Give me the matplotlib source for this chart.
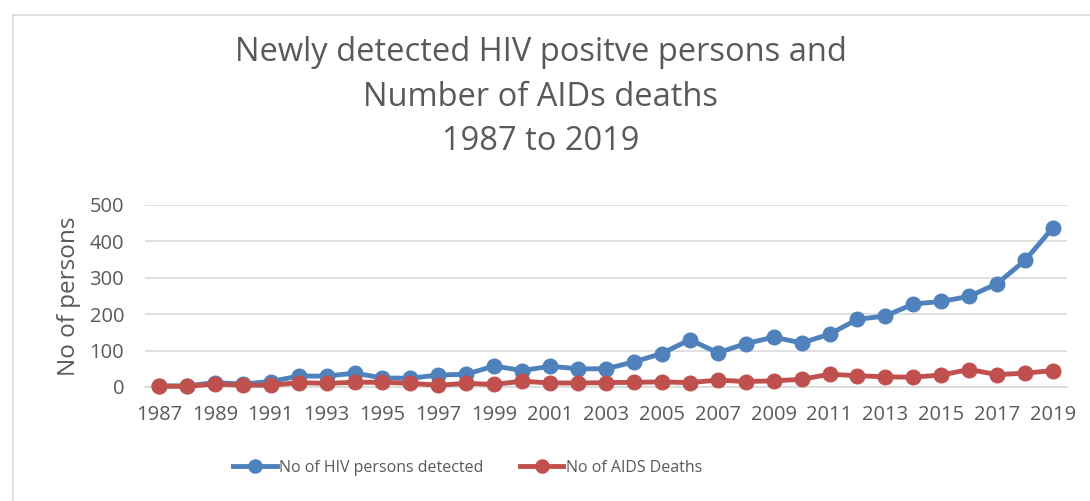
import numpy as np
import matplotlib
matplotlib.use("Agg")
import matplotlib.pyplot as plt
from matplotlib.patches import Rectangle

years = list(range(1987, 2020))
hiv_detected = [3, 3, 12, 8, 15, 30, 30, 38, 25, 24, 33, 35, 58, 45, 57, 50, 50,
                69, 92, 130, 94, 119, 137, 121, 145, 186, 195, 228, 235, 249, 284, 348, 438]
aids_deaths = [2, 2, 8, 5, 5, 12, 10, 13, 13, 10, 5, 10, 7, 16, 11, 11, 12,
               13, 14, 12, 19, 15, 17, 21, 35, 31, 28, 27, 33, 48, 34, 38, 45]

title = "Newly detected HIV positve persons and\nNumber of AIDs deaths\n1987 to 2019"
TXT = "#595959"
BLUE = "#4F81BD"
RED = "#C0504D"

plt.rcParams["font.family"] = ["Open Sans", "DejaVu Sans"]

fig = plt.figure(figsize=(10.9, 5.01), dpi=100)
# chart-area border (only top/left edges fall inside the image)
fig.patches.append(Rectangle((13 / 1090, -0.1), 2, 1.1 - 15 / 501, transform=fig.transFigure,
                             fill=False, edgecolor="#d9d9d9", lw=1.2))

ax = fig.add_axes([145 / 1090, 1 - 387 / 501, (1067 - 145) / 1090, (387 - 205) / 501])

ax.plot(years, hiv_detected, color=BLUE, lw=3.5, marker="o", ms=10.5, label="No of HIV persons detected",
        clip_on=False, zorder=3)
ax.plot(years, aids_deaths, color=RED, lw=3.5, marker="o", ms=10.5, label="No of AIDS Deaths",
        clip_on=False, zorder=4)

ax.set_xlim(1986.5, 2019.5)
ax.set_ylim(0, 500)
ax.set_yticks(range(0, 501, 100))
ax.set_xticks(years[::2])
ax.grid(axis="y", color="#d9d9d9", lw=1.2)
ax.set_axisbelow(True)
for s in ["top", "right", "left"]:
    ax.spines[s].set_visible(False)
ax.spines["bottom"].set_color("#d9d9d9")
ax.spines["bottom"].set_linewidth(1.2)
ax.tick_params(length=0, labelsize=14.5, colors=TXT)
ax.tick_params(axis="y", pad=15)
ax.tick_params(axis="x", pad=13)
ax.set_ylabel("No of persons", fontsize=17.5, color=TXT, labelpad=6)

fig.text(0.496, 1 - 36 / 501, title, ha="center", va="top", fontsize=23.5, color=TXT,
         linespacing=1.46)

leg = fig.legend(loc="center", bbox_to_anchor=(0.429, 1 - 468 / 501), ncol=2, frameon=False,
                 fontsize=11.5, handlelength=2.7, handletextpad=0.15, columnspacing=2.3,
                 markerscale=0.9)
for t in leg.get_texts():
    t.set_color(TXT)

fig.savefig("out.png", dpi=100)
